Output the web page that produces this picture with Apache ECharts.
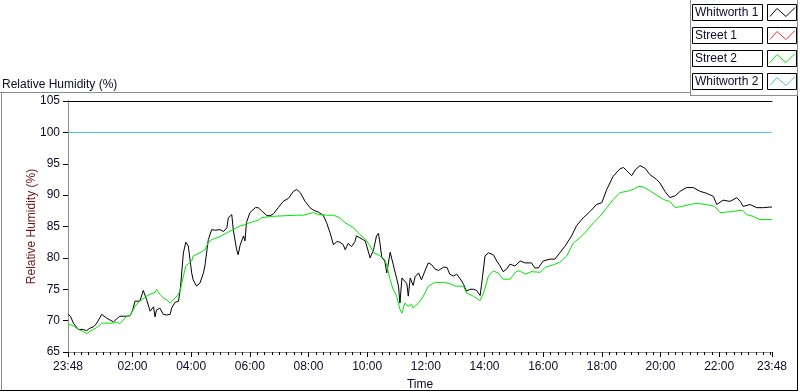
<!DOCTYPE html>
<html>
<head>
<meta charset="utf-8">
<script src="https://cdn.jsdelivr.net/npm/echarts@6/dist/echarts.min.js"></script>
<style>html,body{margin:0;padding:0;background:#fff;}#c{width:800px;height:392px;}</style>
</head>
<body>
<div id="c"></div>
<script>
// minutes since 23:48 start
var seriesNames = ['Whitworth 1', 'Street 1', 'Street 2', 'Whitworth 2'];
var seriesColors = ['#000000', '#ee3333', '#00e600', '#4fb6e8'];

var w1Times = [0,5,11,21,31,38,45,52,59,69,79,93,100,106,120,127,132,137,147,154,158,161,168,175,178,181,188,195,202,209,212,219,226,230,236,241,246,253,256,263,270,277,280,287,294,301,311,318,325,328,335,338,345,348,352,359,362,365,372,383,389,396,406,413,420,430,440,451,461,468,475,485,495,502,512,522,529,536,543,550,556,563,567,573,580,587,590,597,608,611,618,625,631,635,638,642,648,652,659,665,672,676,679,683,686,693,696,700,706,710,717,723,730,737,744,751,758,768,775,781,788,795,802,809,815,822,829,836,843,846,853,860,870,877,884,890,897,904,914,925,935,948,955,962,972,986,996,1006,1017,1030,1040,1054,1068,1081,1092,1102,1115,1129,1136,1143,1153,1160,1170,1180,1190,1204,1211,1221,1231,1242,1252,1265,1279,1293,1306,1320,1327,1340,1354,1368,1375,1381,1395,1409,1422,1436,1440];
var w1Values = [71.0,70.7,69.6,68.6,68.6,68.4,68.8,69.0,69.6,71.0,70.4,69.8,70.3,70.7,70.7,70.8,71.6,73.1,73.1,74.8,74.8,73.3,71.5,72.2,70.6,71.7,72.0,71.0,70.9,71.0,72.0,72.9,73.1,75.2,80.8,82.5,81.9,77.6,76.5,75.5,76.0,77.6,78.7,82.9,84.5,84.4,84.5,84.2,84.8,86.4,86.9,84.5,81.3,80.5,82.0,83.5,82.7,85.6,87.2,88.0,88.0,87.5,86.8,86.7,87.0,88.0,89.0,89.5,90.6,90.9,90.4,89.0,88.0,87.6,87.3,86.8,85.6,84.0,82.1,82.6,82.5,82.1,81.3,82.3,81.8,82.6,83.5,83.2,82.7,81.9,80.0,81.3,83.5,83.9,82.4,80.0,79.5,77.6,80.9,79.0,76.8,75.5,72.8,76.8,77.0,75.9,73.9,76.8,75.6,77.0,77.6,76.5,77.9,79.2,78.9,78.2,78.0,78.5,78.5,77.4,77.1,77.4,76.7,75.8,74.7,75.0,75.0,74.8,74.0,75.8,80.3,80.8,80.5,79.5,78.7,77.8,78.2,79.0,78.7,79.5,79.2,79.2,78.4,78.4,79.5,79.8,79.8,80.8,81.9,83.5,85.1,86.4,87.4,88.5,88.8,90.9,93.0,94.2,94.4,93.9,93.1,94.0,94.7,94.3,93.3,92.5,91.9,90.6,89.6,89.9,90.6,91.2,91.2,90.6,90.3,89.8,88.5,89.2,89.0,89.6,89.0,88.2,88.5,88.0,88.0,88.1,88.1];

var s1Times = [];
var s1Values = [];

var s2Times = [0,11,21,31,38,45,59,69,79,93,100,106,120,127,137,147,161,168,178,181,188,195,202,209,219,226,230,236,241,253,256,270,280,287,294,311,325,338,352,362,372,389,396,413,440,468,482,495,502,512,529,543,556,567,584,597,608,618,625,635,648,652,659,665,672,679,683,689,696,703,706,717,727,737,751,768,781,792,809,815,829,843,850,860,870,880,890,904,918,925,935,948,966,976,993,1006,1020,1034,1047,1061,1075,1088,1102,1115,1129,1143,1156,1167,1177,1190,1204,1218,1231,1242,1255,1272,1286,1306,1323,1334,1347,1361,1375,1381,1388,1402,1415,1440];
var s2Values = [69.4,69.2,68.6,68.3,67.9,68.3,68.9,69.6,69.6,69.6,69.8,69.5,70.7,70.8,72.3,73.1,73.9,74.2,74.5,75.0,74.2,73.6,73.3,72.8,73.6,74.2,75.0,77.1,78.7,79.5,80.3,80.8,81.3,82.4,82.9,83.4,84.0,84.5,85.1,85.3,85.6,86.0,86.4,86.6,86.7,86.8,86.8,87.1,87.2,86.9,86.8,86.8,86.4,85.6,84.8,83.7,83.0,81.9,80.8,80.5,79.7,78.8,76.5,75.0,74.0,71.8,71.2,72.8,72.3,72.6,72.0,72.8,73.9,75.5,76.1,76.1,75.9,75.5,75.5,74.4,73.9,73.2,74.4,77.1,77.9,77.6,76.6,76.6,77.9,77.9,77.4,77.8,77.7,78.5,78.9,79.3,80.3,82.4,83.2,84.3,85.6,86.6,88.0,89.3,90.4,90.6,90.9,91.4,91.3,90.7,90.0,89.3,89.0,88.0,88.2,88.5,88.7,88.5,88.2,87.2,87.3,87.4,87.6,87.5,86.9,86.6,86.1,86.1];

var w2Times = [0, 1440];
var w2Values = [100, 100];

var xMajorTicks = [0,132,252,372,492,612,732,852,972,1092,1212,1332,1440];
var yTicks = [65,70,75,80,85,90,95,100,105];

function pairs(t, v) { return t.map(function (x, i) { return [x, v[i]]; }); }
function clock(m) {
  var total = (23 * 60 + 48 + Math.round(m)) % 1440;
  var h = Math.floor(total / 60), mm = total % 60;
  return (h < 10 ? '0' : '') + h + ':' + (mm < 10 ? '0' : '') + mm;
}
var minorTicks = [];
for (var k = 12; k <= 1440; k += 15) minorTicks.push(k);

var FONT = 'Liberation Sans';
var TXT = '#0b0b26';

var chart = echarts.init(document.getElementById('c'));

var graphics = [
  { type: 'text', left: 2, top: 79, style: { text: 'Relative Humidity (%)', font: '12px "' + FONT + '"', fill: TXT } },
  { type: 'line', shape: { x1: 0, y1: 92.5, x2: 690, y2: 92.5 }, style: { stroke: '#8c8c8c', lineWidth: 1 } },
  { type: 'line', shape: { x1: 1.5, y1: 92, x2: 1.5, y2: 390 }, style: { stroke: '#8c8c8c', lineWidth: 1 } },
  { type: 'line', shape: { x1: 0, y1: 390.5, x2: 798, y2: 390.5 }, style: { stroke: '#000', lineWidth: 1 } },
  { type: 'line', shape: { x1: 797.5, y1: 95, x2: 797.5, y2: 391 }, style: { stroke: '#000', lineWidth: 1 } },
  { type: 'line', shape: { x1: 690.5, y1: 0, x2: 690.5, y2: 95 }, style: { stroke: '#8c8c8c', lineWidth: 1 } },
  { type: 'line', shape: { x1: 690, y1: 95.5, x2: 798, y2: 95.5 }, style: { stroke: '#8c8c8c', lineWidth: 1 } },
  { type: 'line', shape: { x1: 797.5, y1: 0, x2: 797.5, y2: 95 }, style: { stroke: '#8c8c8c', lineWidth: 1 } }
];
var rowTops = [4.5, 27.5, 50.5, 73.5];
seriesNames.forEach(function (n, i) {
  var y0 = rowTops[i];
  graphics.push({ type: 'rect', shape: { x: 692.5, y: y0, width: 70, height: 16 }, style: { fill: '#fff', stroke: '#000', lineWidth: 1 } });
  graphics.push({ type: 'text', x: 695, y: y0 + 8.5, style: { text: n, font: '12px "' + FONT + '"', fill: TXT, textVerticalAlign: 'middle', verticalAlign: 'middle' } });
  graphics.push({ type: 'rect', shape: { x: 767.5, y: y0, width: 29, height: 16 }, style: { fill: '#fff', stroke: '#000', lineWidth: 1 } });
  graphics.push({ type: 'polyline', shape: { points: [[770, y0 + 12], [777, y0 + 4], [786, y0 + 12], [795, y0 + 3]] }, style: { stroke: seriesColors[i], lineWidth: 1, fill: null } });
});

var lineSeries = [
  { name: seriesNames[0], data: pairs(w1Times, w1Values) },
  { name: seriesNames[1], data: pairs(s1Times, s1Values) },
  { name: seriesNames[2], data: pairs(s2Times, s2Values) },
  { name: seriesNames[3], data: pairs(w2Times, w2Values) }
].map(function (s, i) {
  return {
    type: 'line', name: s.name, data: s.data, xAxisIndex: 0, yAxisIndex: 0,
    showSymbol: false, symbol: 'none', lineStyle: { color: seriesColors[i], width: 1 },
    itemStyle: { color: seriesColors[i] }, z: 2 + i
  };
});

chart.setOption({
  animation: false,
  backgroundColor: '#ffffff',
  grid: { left: 68, right: 28, top: 101, bottom: 40, containLabel: false, outerBoundsMode: 'none' },
  xAxis: [
    {
      type: 'value', min: 0, max: 1440, position: 'bottom',
      axisLine: { show: true, lineStyle: { color: '#8c8c8c', width: 1 } },
      axisTick: { show: true, inside: false, length: 5, customValues: xMajorTicks, lineStyle: { color: '#000' } },
      axisLabel: { show: true, customValues: xMajorTicks, formatter: function (v) { return clock(v); }, margin: 9, color: TXT, fontSize: 12, fontFamily: FONT },
      splitLine: { show: false },
      name: 'Time', nameLocation: 'middle', nameGap: 27, nameMoveOverlap: false, nameTextStyle: { color: TXT, fontSize: 12, fontFamily: FONT }
    },
    {
      type: 'value', min: 0, max: 1440, position: 'bottom',
      axisLine: { show: false },
      axisTick: { show: true, inside: false, length: 3, customValues: minorTicks, lineStyle: { color: '#000' } },
      axisLabel: { show: false },
      splitLine: { show: false }
    },
    {
      type: 'value', min: 0, max: 1440, position: 'top',
      axisLine: { show: true, lineStyle: { color: '#000', width: 1 } },
      axisTick: { show: false }, axisLabel: { show: false }, splitLine: { show: false }
    }
  ],
  yAxis: [
    {
      type: 'value', min: 65, max: 105, interval: 5, position: 'left',
      axisLine: { show: true, lineStyle: { color: '#000', width: 1 } },
      axisTick: { show: true, inside: false, length: 5, lineStyle: { color: '#000' } },
      axisLabel: { margin: 8, color: TXT, fontSize: 12, fontFamily: FONT },
      splitLine: { show: false },
      name: 'Relative Humidity (%)', nameLocation: 'middle', nameGap: 30, nameMoveOverlap: false,
      nameTextStyle: { color: '#6e1414', fontSize: 12, fontFamily: FONT }
    },
    {
      type: 'value', min: 65, max: 105, interval: 5, position: 'right',
      axisLine: { show: true, lineStyle: { color: '#8c8c8c', width: 1 } },
      axisTick: { show: false }, axisLabel: { show: false }, splitLine: { show: false }
    }
  ],
  series: lineSeries,
  graphic: graphics
});
</script>
</body>
</html>
